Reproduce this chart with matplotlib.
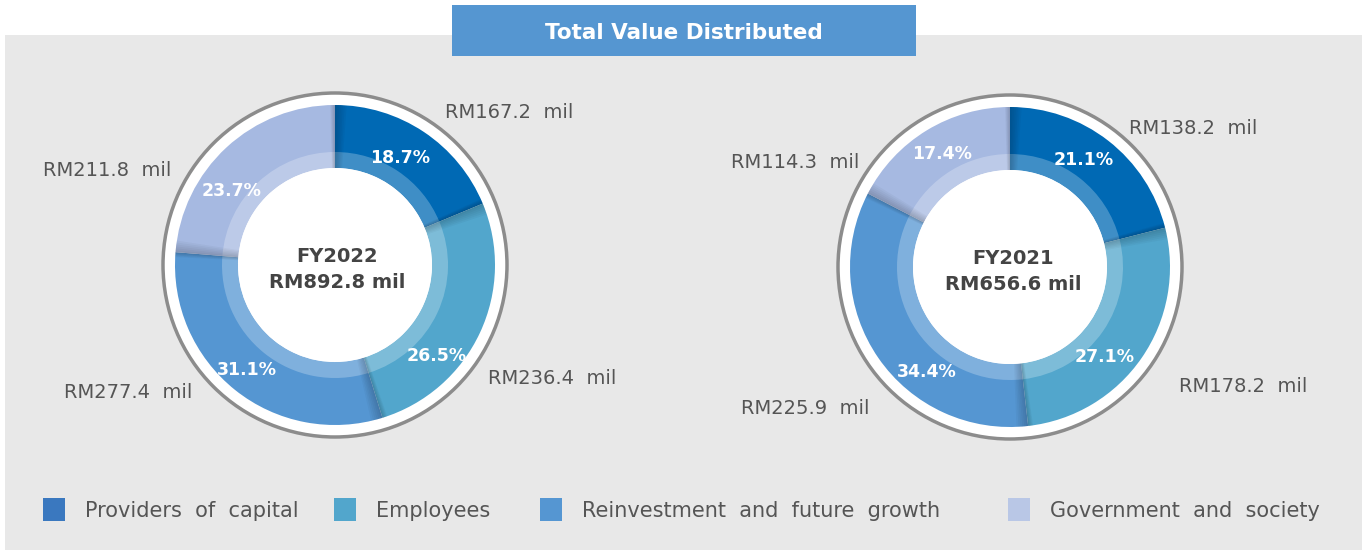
import matplotlib
matplotlib.use('Agg')

import matplotlib.pyplot as plt
from matplotlib.patches import Rectangle, Circle, Wedge

plt.rcParams['font.family'] = ['DejaVu Sans']

# 데이터
categories = ["Providers of capital", "Employees",
              "Reinvestment and future growth", "Government and society"]
years = ["FY2022", "FY2021"]
totals = ["RM892.8 mil", "RM656.6 mil"]
values_2022 = [167.2, 236.4, 277.4, 211.8]
values_2021 = [138.2, 178.2, 225.9, 114.3]
pct_2022 = ["18.7%", "26.5%", "31.1%", "23.7%"]
pct_2021 = ["21.1%", "27.1%", "34.4%", "17.4%"]

wedge_colors = ["#0069b4", "#52a6cc", "#5596d2", "#a6b9e1"]
legend_colors = ["#3a78bf", "#52a6cc", "#5596d2", "#b9c7e6"]

W, H = 1369, 553
fig = plt.figure(figsize=(W / 100, H / 100), dpi=100, facecolor='white')
ax = fig.add_axes([0, 0, 1, 1])


def py(y):
    # 픽셀 좌표(위에서 아래) -> 데이터 좌표
    return H - y


# 회색 패널 + 제목 박스
ax.add_patch(Rectangle((5, py(550)), 1357, 515, facecolor='#e8e8e8', edgecolor='none', zorder=0))
ax.add_patch(Rectangle((452, py(56)), 464, 51, facecolor='#5596d1', edgecolor='none', zorder=1))
ax.text(684, py(33), "Total Value Distributed", color='white', fontsize=15.5,
        fontweight='bold', ha='center', va='center', zorder=2)

R_RING, R_OUT, R_BAND, R_IN = 172, 160, 113, 97

# 도넛 설정: 중심, 값 레이블 위치, 퍼센트 위치
donuts = [
    dict(center=(335, 265), values=values_2022, pcts=pct_2022, year=years[0], total=totals[0],
         val_pos=[(445, 113), (488, 378), (64, 392), (43, 171)],
         pct_pos=[(400, 158), (437, 356), (247, 370), (232, 191)], text_x=337),
    dict(center=(1010, 267), values=values_2021, pcts=pct_2021, year=years[1], total=totals[1],
         val_pos=[(1129, 129), (1179, 386), (741, 409), (731, 162)],
         pct_pos=[(1084, 160), (1105, 357), (927, 372), (942, 154)], text_x=1013),
]

for d in donuts:
    cx, cy = d['center']
    c = (cx, py(cy))
    # 바깥 링
    ax.add_patch(Circle(c, R_RING, facecolor='white', edgecolor='#8c8c8c', linewidth=2.5, zorder=2))
    # 도넛
    ax.pie(d['values'], colors=wedge_colors, startangle=90, counterclock=False,
           radius=R_OUT, center=c, frame=True,
           wedgeprops=dict(width=R_OUT - R_IN, edgecolor='none', zorder=3))
    # 안쪽 밝은 띠
    ax.pie(d['values'], colors=['white'] * 4, startangle=90, counterclock=False,
           radius=R_BAND, center=c, frame=True,
           wedgeprops=dict(width=R_BAND - R_IN, edgecolor='none', alpha=0.25, zorder=4))
    # 경계 그림자 (부드럽게)
    total = sum(d['values'])
    ang = 90.0
    for v in d['values']:
        for k in range(1, 7):
            ax.add_patch(Wedge(c, R_OUT, ang - 0.7 * k, ang + 0.3 * k, width=R_OUT - R_IN,
                               facecolor='black', alpha=0.03, edgecolor='none', zorder=5))
        ang -= v / total * 360
    # 가운데 흰 원
    ax.add_patch(Circle(c, R_IN, facecolor='white', edgecolor='none', zorder=6))
    ax.text(d['text_x'], py(cy - 9), d['year'], color='#444444', fontsize=14,
            fontweight='bold', ha='center', va='center', zorder=7)
    ax.text(d['text_x'], py(cy + 17), d['total'], color='#444444', fontsize=14,
            fontweight='bold', ha='center', va='center', zorder=7)
    for v, (x, y) in zip(d['values'], d['val_pos']):
        ax.text(x, py(y), f"RM{v:.1f}  mil", color='#555555', fontsize=14,
                ha='left', va='center', zorder=7)
    for p, (x, y) in zip(d['pcts'], d['pct_pos']):
        ax.text(x, py(y), p, color='white', fontsize=12.5, fontweight='bold',
                ha='center', va='center', zorder=7)

# 범례
leg_sq = [43, 334, 540, 1008]
for name, col, x in zip(categories, legend_colors, leg_sq):
    ax.add_patch(Rectangle((x, py(521)), 22, 23, facecolor=col, edgecolor='none', zorder=2))
    ax.text(x + 42, py(511), name.replace(' ', '  '), color='#555555', fontsize=15,
            ha='left', va='center', zorder=2)

ax.set_xlim(0, W)
ax.set_ylim(0, H)
ax.set_aspect('auto')
ax.set_axis_off()

fig.savefig('out.png', dpi=100, facecolor='white')
